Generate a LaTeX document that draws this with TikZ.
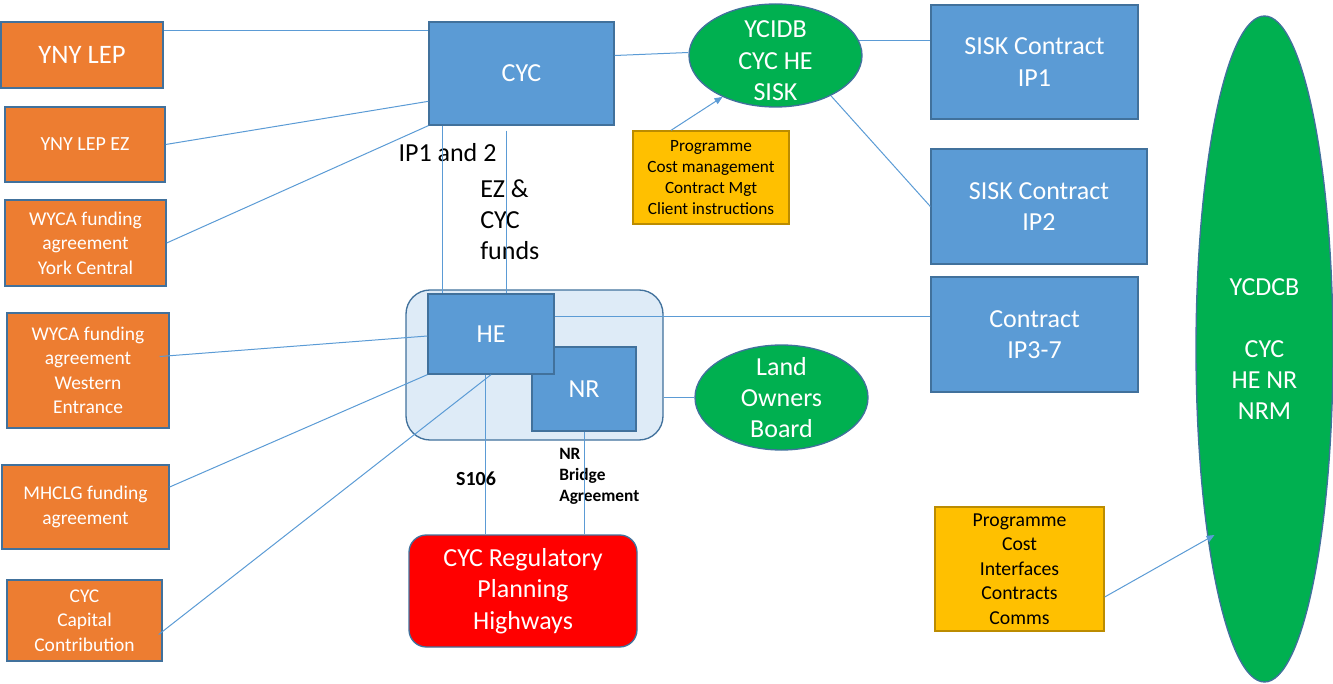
\documentclass[tikz,border=0pt]{standalone}
\usepackage{fontspec}
\setmainfont{Carlito}
\usetikzlibrary{calc,shapes.geometric,arrows.meta}
\definecolor{orF}{HTML}{ED7D31}
\definecolor{blF}{HTML}{5B9BD5}
\definecolor{bordC}{HTML}{41719C}
\definecolor{grF}{HTML}{00B050}
\definecolor{yeF}{HTML}{FFC000}
\definecolor{yeB}{HTML}{BC8C00}
\definecolor{ltF}{HTML}{DEEBF7}
\definecolor{lineC}{HTML}{5B9BD5}
\begin{document}
\begin{tikzpicture}[x=0.75pt,y=-0.75pt,
  box/.style={draw=bordC, line width=1pt, inner sep=0pt, align=center, text=white},
  sz/.style 2 args={minimum width=#1, minimum height=#2},
  orbox/.style={box, fill=orF, font=\fontsize{14.6}{18.4}\selectfont},
  blbox/.style={box, fill=blF, font=\fontsize{19.5}{23.4}\selectfont},
  yebox/.style={box, draw=yeB, fill=yeF, text=black},
  ell/.style={ellipse, draw=bordC, line width=1pt, fill=grF, inner sep=0pt},
  etext/.style={text=white, align=center, font=\fontsize{19.5}{23.4}\selectfont},
  lbl/.style={inner sep=0pt, font=\fontsize{19.5}{23.25}\selectfont},
  conn/.style={draw=lineC, line width=0.75pt},
  arr/.style={conn, -{Triangle[length=6pt,width=5pt]}}
]
\useasboundingbox (0,0) rectangle (1333,684);

% left orange boxes
\node[orbox, font=\fontsize{20}{24}\selectfont, sz={121.5pt}{49.5pt}] (lep) at (82,55) {YNY LEP};
\node[orbox, font=\fontsize{15}{18.4}\selectfont, sz={120pt}{56.25pt}] (lepez) at (85,144.5) {YNY LEP EZ};
\node[orbox, sz={120.75pt}{64.5pt}] (wyyc) at (85.5,243) {WYCA funding\\agreement\\York Central};
\node[orbox, sz={121.5pt}{86.25pt}] (wwe) at (88,370.5) {WYCA funding\\agreement\\Western\\Entrance};
\node[orbox, sz={125.25pt}{63pt}] (mh) at (85.5,507) {MHCLG funding\\agreement};
\node[orbox, sz={116.25pt}{60.75pt}] (ccc) at (84.5,620.5) {CYC\\Capital\\Contribution};

% CYC
\node[blbox, sz={138.75pt}{77.25pt}] (cyc) at (521.5,73.5) {CYC};

% HE / NR group
\node[draw=bordC, line width=1pt, fill=ltF, rounded corners=18pt, inner sep=0pt, sz={192.75pt}{112.5pt}] (grp) at (534.5,365) {};
\node[blbox, sz={78pt}{63pt}] (nr) at (584,389) {NR};
\node[blbox, sz={94.5pt}{60pt}] (he) at (491,334) {HE};

% red box
\node[box, fill=red, rounded corners=13pt, font=\fontsize{19.5}{23.6}\selectfont, sz={171pt}{84pt}] (reg) at (523,591) {CYC Regulatory\\Planning\\Highways};

% ellipses
\node[ell, minimum width=129.75pt, minimum height=77.25pt,
  label={[etext, yshift=-4pt]center:YCIDB\\CYC HE\\SISK}] (ycidb) at (775.5,55.5) {};
\node[ell, minimum width=129.75pt, minimum height=78.75pt,
  label={[etext]center:Land\\Owners\\Board}] (lob) at (781.5,397.5) {};
\node[ell, minimum width=102.75pt, minimum height=499.5pt,
  label={[etext]center:YCDCB\\[23.4pt]CYC\\HE NR\\NRM}] (ycdcb) at (1264.5,349) {};

% contracts
\node[blbox, sz={155.25pt}{85.5pt}] (sisk1) at (1034.5,62) {SISK Contract\\IP1};
\node[blbox, sz={162pt}{86.25pt}] (sisk2) at (1039,206.5) {SISK Contract\\IP2};
\node[blbox, sz={155.25pt}{86.25pt}] (ip37) at (1034.5,334.5) {Contract\\IP3-7};

% yellow boxes
\node[yebox, font=\fontsize{12.9}{15.75}\selectfont, sz={117pt}{69.75pt}] (prog1) at (711,177.5) {Programme\\Cost management\\Contract Mgt\\Client instructions};
\node[yebox, font=\fontsize{14.8}{18.4}\selectfont, sz={126.75pt}{93pt}] (prog2) at (1019.5,569) {Programme\\Cost\\Interfaces\\Contracts\\Comms};

% labels
\node[lbl] (ip12) at (447.5,153) {IP1 and 2};
\node[lbl, anchor=west, align=left] (ezf) at (480,220) {EZ \&\\CYC\\funds};
\node[inner sep=0pt, font=\fontsize{15}{18}\selectfont\bfseries] (s106) at (476,479) {S106};
\node[inner sep=0pt, anchor=west, align=left, font=\fontsize{13}{15.75}\selectfont\bfseries] (nrb) at (559,476) {NR\\Bridge\\Agreement};

% connectors
\draw[conn] ($(lep.north east)+(0,9)$) -- ($(cyc.north west)+(0,9)$);
\draw[conn] (lepez.east) -- ($(cyc.north west)+(0,80)$);
\draw[conn] (wyyc.east) -- (cyc.south west);
\draw[conn] ($(cyc.south west)+(14,0)$) coordinate (c1) -- (c1 |- he.north);
\draw[conn] ($(cyc.south west)+(78,5)$) coordinate (c2) -- (c2 |- he.north);
\draw[conn] ($(wwe.east)+(-10,-14)$) -- ($(he.west)+(0,2)$);
\draw[conn] ($(mh.east)+(0,-20)$) -- (he.south west);
\draw[conn] ($(ccc.east)+(-4,14)$) -- (he.south);
\draw[conn] ($(he.south)+(-6,0)$) coordinate (c3) -- (c3 |- reg.north);
\draw[conn] (nr.south) -- (nr.south |- reg.north);
\draw[conn] ($(he.east)+(0,-18)$) coordinate (c4) -- (c4 -| ip37.west);
\draw[conn] (lob.west) -- (lob.west -| grp.east);
\draw[conn] ($(cyc.east)+(0,-18)$) -- ($(ycidb.west)+(0,-3)$);
\draw[conn] (ycidb.10) -- (ycidb.10 -| sisk1.west);
\draw[conn] (ycidb.-36) -- (sisk2.west);
\draw[arr] ($(prog1.north)+(-40,0)$) -- (ycidb.-142);
\draw[arr] ($(prog2.east)+(0,28)$) -- ($(ycdcb.center)+(-50,186)$);
\end{tikzpicture}
\end{document}
